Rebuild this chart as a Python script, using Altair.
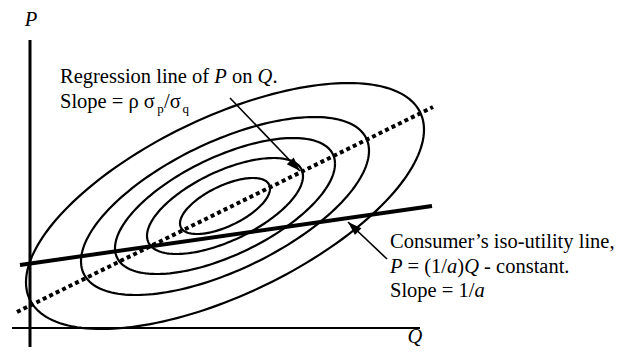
import numpy as np
import pandas as pd
import altair as alt

# ---- values (Q, P units: 1 unit ~ 1 px) ----
ring_half_width = [45, 78, 110, 144, 199]     # horizontal half-extent of each contour
ring_half_height = [28, 48, 68, 89, 123]      # vertical half-extent of each contour
ring_corr = 0.62                              # tilt (correlation) of the contours
centre_q, centre_p = 195, 122

regression_q = [-13, 403]
regression_p = [16, 221]
iso_q = [-10, 402]
iso_p = [63, 122]

q_axis_q = [-18, 390]
p_axis_p = [-22, 288]

FONT = "Liberation Serif"
FS = 20.5

# ---- contour outlines built from the read parameters ----
phi = np.arccos(ring_corr)
rows = []
for k, (h, v) in enumerate(zip(ring_half_width, ring_half_height)):
    for j, t in enumerate(np.linspace(0, 2 * np.pi, 181)):
        rows.append({"ring": k, "i": j,
                     "q": centre_q + h * np.cos(t),
                     "p": centre_p + v * np.cos(t - phi)})
rings = pd.DataFrame(rows)

xs = alt.Scale(domain=[-22, 593], nice=False, zero=False)
ys = alt.Scale(domain=[-19, 320], nice=False, zero=False)
X = lambda f="q": alt.X(f"{f}:Q", scale=xs, axis=None)
Y = lambda f="p": alt.Y(f"{f}:Q", scale=ys, axis=None)

ring_layer = alt.Chart(rings).mark_line(color="black", strokeWidth=2.2).encode(
    x=X(), y=Y(), detail="ring:N", order="i:Q")

reg_df = pd.DataFrame({"q": regression_q, "p": regression_p})
reg_layer = alt.Chart(reg_df).mark_line(
    color="black", strokeWidth=4, strokeDash=[4, 3.2], strokeCap="butt").encode(x=X(), y=Y())

iso_df = pd.DataFrame({"q": iso_q, "p": iso_p})
iso_layer = alt.Chart(iso_df).mark_line(color="black", strokeWidth=4).encode(x=X(), y=Y())

axes_df = pd.DataFrame({
    "q": [q_axis_q[0], 0], "q2": [q_axis_q[1], 0],
    "p": [0, p_axis_p[0]], "p2": [0, p_axis_p[1]],
    "w": [2.2, 3.0]})
axes_layer = alt.Chart(axes_df).mark_rule(color="black").encode(
    x=X(), x2="q2:Q", y=Y(), y2="p2:Q",
    strokeWidth=alt.StrokeWidth("w:Q", scale=None))

# ---- annotation arrows ----
arrows = pd.DataFrame({
    "q": [200, 357], "p": [230, 69],      # tail
    "q2": [270, 318], "p2": [157, 106],   # tip
    "ang": [136, 313.5]})
arrow_lines = alt.Chart(arrows).mark_rule(color="black", strokeWidth=1.6).encode(
    x=X(), x2="q2:Q", y=Y(), y2="p2:Q")
head_path = "M0,0 L-0.34,1 L0.34,1 Z"
arrow_heads = alt.Chart(arrows).mark_point(
    shape=head_path, filled=True, color="black", opacity=1, size=784).encode(
    x=X("q2"), y=Y("p2"), angle=alt.Angle("ang:Q", scale=None))

# ---- texts ----
regular_txt = pd.DataFrame([
    ("Regression line of", 30, 245),
    ("on", 202, 245),
    (".", 242.4, 245),
    ("Slope = ρ σ", 30, 220),
    ("/σ", 134, 220),
    ("Consumer’s iso-utility line,", 360, 80),
    ("= (1/", 377.6, 55),
    (")", 427.3, 55),
    ("- constant.", 454.1, 55),
    ("Slope = 1/", 360, 31),
], columns=["t", "q", "p"])
italic_txt = pd.DataFrame([
    ("P", 184.3, 245),
    ("Q", 227.6, 245),
    ("P", 360, 55),
    ("a", 417.1, 55),
    ("Q", 434.2, 55),
    ("a", 444.5, 31),
], columns=["t", "q", "p"])
axis_lbl = pd.DataFrame([
    ("P", 1, 302),
    ("Q", 385, -15),
], columns=["t", "q", "p"])
sub_txt = pd.DataFrame([
    ("p", 127.3, 215),
    ("q", 152.5, 215),
], columns=["t", "q", "p"])

def text_layer(df, align="left", **kw):
    return alt.Chart(df).mark_text(
        align=align, baseline="alphabetic", font=FONT, color="black", **kw).encode(
        x=X(), y=Y(), text="t:N")

layers = [
    ring_layer, reg_layer, iso_layer, axes_layer, arrow_lines, arrow_heads,
    text_layer(regular_txt, fontSize=FS),
    text_layer(italic_txt, fontSize=FS, fontStyle="italic"),
    text_layer(axis_lbl, align="center", fontSize=20.5, fontStyle="italic"),
    text_layer(sub_txt, fontSize=13),
]

chart = alt.layer(*layers).properties(
    width=615, height=339, padding=0,
    autosize=alt.AutoSizeParams(type="none"),
    background="white",
).configure_view(stroke=None)

chart.save("out.html", embed_options={"renderer": "svg", "actions": False})
